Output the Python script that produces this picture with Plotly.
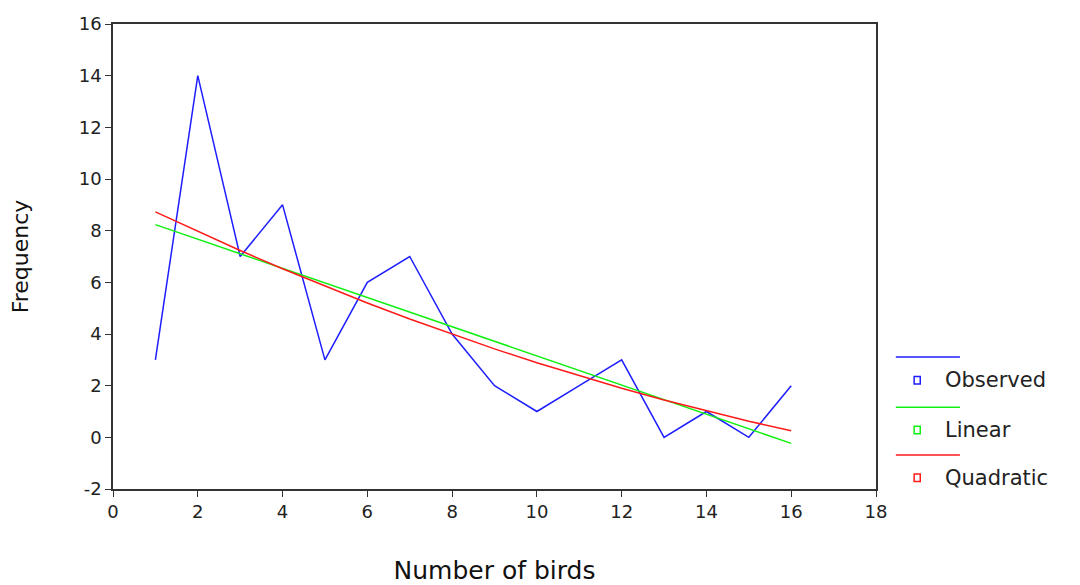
import plotly.graph_objects as go

birds = list(range(1, 17))
observed = [3, 14, 7, 9, 3, 6, 7, 4, 2, 1, 2, 3, 0, 1, 0, 2]
linear = [8.235, 7.671, 7.106, 6.541, 5.976, 5.412, 4.847, 4.282,
          3.718, 3.153, 2.588, 2.024, 1.459, 0.894, 0.329, -0.235]
quadratic = [8.725, 7.965, 7.232, 6.527, 5.850, 5.202, 4.581, 3.988,
             3.424, 2.887, 2.378, 1.898, 1.445, 1.020, 0.623, 0.255]
x_ticks = list(range(0, 19, 2))
y_ticks = list(range(-2, 17, 2))

series = [("Observed", observed, "#1e1eff"),
          ("Linear", linear, "#10f010"),
          ("Quadratic", quadratic, "#ff1a1a")]

fig = go.Figure()
for name, vals, col in series:
    fig.add_trace(go.Scatter(x=birds, y=vals, mode="lines", name=name,
                             line=dict(color=col, width=1.5), showlegend=False))

font = "DejaVu Sans, Verdana, sans-serif"
axis_common = dict(showline=True, linecolor="#333", linewidth=1.5, mirror=True,
                   ticks="outside", ticklen=6, tickcolor="#333", showgrid=False,
                   zeroline=False, automargin=False,
                   tickfont=dict(family=font, size=18, color="#222"))
fig.update_xaxes(range=[0, 18], tickvals=x_ticks, ticktext=[str(v) for v in x_ticks],
                 **axis_common,
                 title=dict(text="Number of birds", font=dict(family=font, size=25, color="#111"),
                            standoff=40))
fig.update_yaxes(range=[-2, 16], tickvals=y_ticks, ticktext=[str(v) for v in y_ticks],
                 **axis_common,
                 title=dict(text="Frequency", font=dict(family=font, size=22, color="#111"),
                            standoff=48))

# custom legend
rows = [(0.284, 0.234), (0.176, 0.127), (0.073, 0.024)]
for (name, vals, col), (ly, my) in zip(series, rows):
    fig.add_shape(type="line", xref="paper", yref="paper", x0=1.026, x1=1.110, y0=ly, y1=ly,
                  line=dict(color=col, width=1.5))
    fig.add_shape(type="rect", xref="paper", yref="paper", x0=1.050, x1=1.058,
                  y0=my - 0.008, y1=my + 0.008, line=dict(color=col, width=1.5))
    fig.add_annotation(text=name, xref="paper", yref="paper", x=1.088, y=my,
                       xanchor="left", yanchor="middle", showarrow=False,
                       font=dict(family=font, size=21, color="#222"))

fig.update_layout(width=1072, height=577, plot_bgcolor="white", paper_bgcolor="white",
                  margin=dict(l=105, r=204, t=16, b=96))
fig.write_html("out.html")
